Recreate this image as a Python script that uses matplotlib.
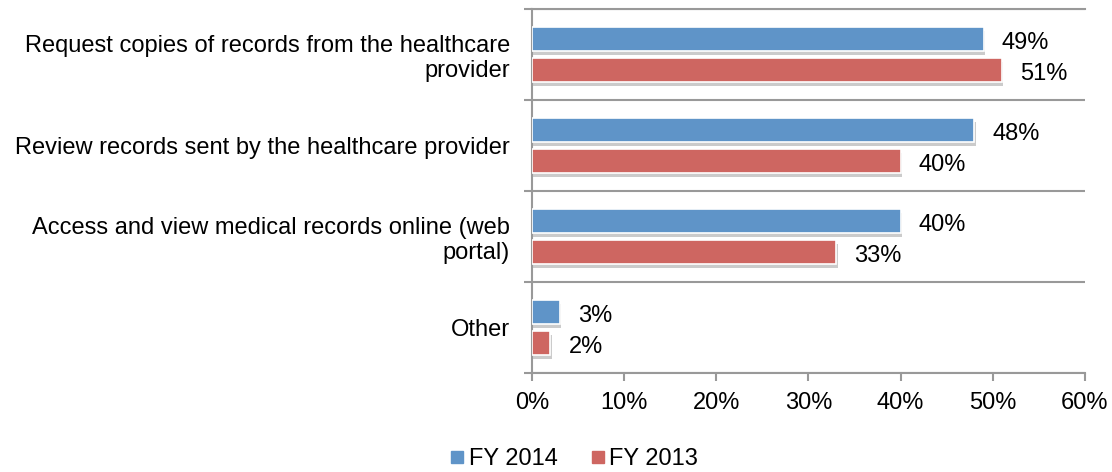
import matplotlib.pyplot as plt
import matplotlib.patheffects as pe
from matplotlib.lines import Line2D
import numpy as np

plt.rcParams['font.family'] = ['Liberation Sans', 'DejaVu Sans']

categories = ['Request copies of records from the healthcare\nprovider',
              'Review records sent by the healthcare provider',
              'Access and view medical records online (web\nportal)',
              'Other']
fy2014 = [49, 48, 40, 3]
fy2013 = [51, 40, 33, 2]
series_names = ['FY 2014', 'FY 2013']
colors = ['#5F94C8', '#CE6661']

fig = plt.figure(figsize=(11.12, 4.72), dpi=100)
ax = fig.add_axes([0.4784, 0.2097, 0.4973, 0.7713])

y = np.arange(len(categories))
off = 0.17
h = 0.26
shadow = [pe.SimplePatchShadow(offset=(1, -3), shadow_rgbFace='#999999', alpha=0.5), pe.Normal()]
for vals, dy, col in [(fy2014, -off, colors[0]), (fy2013, off, colors[1])]:
    bars = ax.barh(y + dy, vals, height=h, color=col, edgecolor='white', linewidth=1.2, zorder=3)
    for b in bars:
        b.set_path_effects(shadow)
    # value labels
    for yy, v in zip(y + dy, vals):
        ax.annotate(f'{v}%', (v, yy), xytext=(13, -3), textcoords='offset points',
                    va='center', ha='left', fontsize=17)

ax.set_xlim(0, 60)
ax.set_ylim(len(categories) - 0.5, -0.5)
ax.set_xticks(np.arange(0, 61, 10))
ax.set_xticklabels([f'{t}%' for t in range(0, 61, 10)], fontsize=17)

# separators at category boundaries, labels at centres
bounds = np.arange(-0.5, len(categories), 1)
ax.set_yticks(bounds)
ax.set_yticklabels([])
ax.set_yticks(y, minor=True)
ax.set_yticklabels(categories, minor=True, fontsize=17, ha='right', multialignment='right')
ax.tick_params(axis='y', which='minor', length=0, pad=16)
ax.tick_params(axis='y', which='major', length=6, width=1.5, color='#999999')
ax.tick_params(axis='x', length=6, width=1.5, color='#999999', pad=8)
ax.grid(axis='y', which='major', color='#999999', linewidth=1.5, zorder=0)

ax.spines['right'].set_visible(False)
for s in ['left', 'bottom', 'top']:
    ax.spines[s].set_color('#999999')
    ax.spines[s].set_linewidth(1.5)

handles = [Line2D([], [], marker='s', linestyle='none', color=c, markersize=8) for c in colors]
fig.legend(handles, series_names, loc='center', bbox_to_anchor=(0.514, 0.028), ncol=2,
           frameon=False, fontsize=17, handletextpad=0.0, columnspacing=1.2, handlelength=1.0)

fig.savefig('out.png', dpi=100)
